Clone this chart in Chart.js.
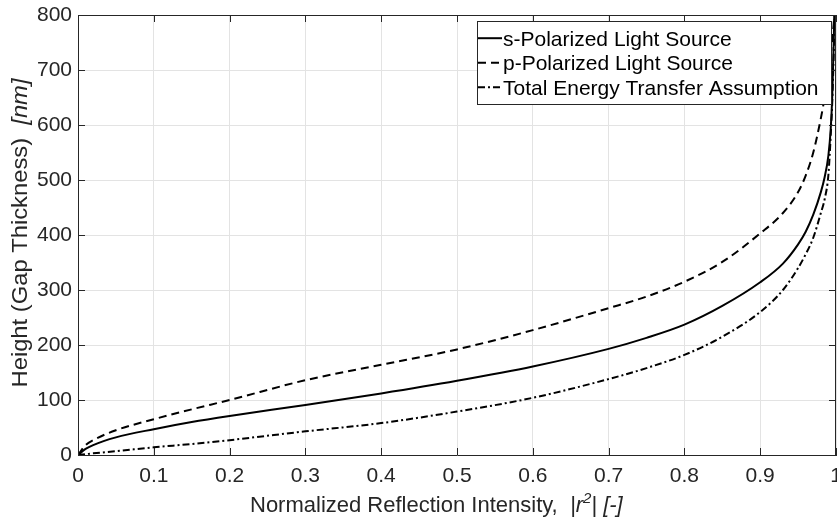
<!DOCTYPE html>
<html>
<head>
<meta charset="utf-8">
<script src="https://cdn.jsdelivr.net/npm/chart.js@4/dist/chart.umd.min.js"></script>
<style>
  html, body { margin: 0; padding: 0; background: #fff; }
  #wrap { width: 837px; height: 527px; }
</style>
</head>
<body>
<div id="wrap"><canvas id="chart"></canvas></div>
<script>
// normalized reflection intensity |r^2| (x axis)
var reflection = [0, 0.01, 0.02, 0.05, 0.1, 0.15, 0.2, 0.3, 0.4, 0.5, 0.6, 0.7, 0.75, 0.8, 0.85,
                  0.9, 0.93, 0.95, 0.96, 0.97, 0.98, 0.985, 0.99, 0.993, 0.995, 0.997, 0.998, 0.999];
// gap thickness in nm
var sPolarized = [0, 11, 18, 32, 47, 60, 71, 91, 112, 135, 161, 193, 213, 237, 271,
                  314, 348, 383, 406, 437, 478, 505, 545, 592, 650, 750, 820, 900];
var pPolarized = [0, 18, 27, 45, 65, 83, 100, 136, 164, 192, 227, 267, 288, 315, 351,
                  403, 440, 478, 508, 550, 612, 650, 695, 728, 755, 785, 805, 840];
var totalTransfer = [0, 1.5, 3, 7, 14, 20, 27, 43, 58, 79, 104, 138, 158, 182, 215,
                     260, 300, 340, 365, 395, 440, 465, 510, 580, 640, 730, 790, 850];
var seriesNames = ["s-Polarized Light Source", "p-Polarized Light Source", "Total Energy Transfer Assumption"];
var xTicks = [0, 0.1, 0.2, 0.3, 0.4, 0.5, 0.6, 0.7, 0.8, 0.9, 1];
var yTicks = [0, 100, 200, 300, 400, 500, 600, 700, 800];

var AX = '#262626';
var FONT = '"Liberation Sans", Arial, Helvetica, sans-serif';

function pts(ys) {
  return reflection.map(function(x, i) { return { x: x, y: ys[i] }; });
}

function line(label, ys, dash) {
  return {
    label: label,
    data: pts(ys),
    borderColor: '#000',
    borderWidth: 2,
    borderDash: dash,
    pointRadius: 0,
    fill: false,
    cubicInterpolationMode: 'monotone'
  };
}

// box, inward ticks, legend and axis titles in MATLAB style
var matlabAxes = {
  id: 'matlabAxes',
  afterDraw: function(chart) {
    var ctx = chart.ctx, a = chart.chartArea;
    var xs = chart.scales.x, ys = chart.scales.y;
    ctx.save();
    ctx.strokeStyle = AX;
    ctx.lineWidth = 1;
    ctx.setLineDash([]);
    ctx.beginPath();
    ctx.moveTo(a.left, a.top + 0.5); ctx.lineTo(a.right, a.top + 0.5);
    ctx.moveTo(a.right - 0.5, a.top); ctx.lineTo(a.right - 0.5, a.bottom);
    xTicks.forEach(function(v) {
      var px = Math.round(xs.getPixelForValue(v)) + 0.5;
      ctx.moveTo(px, a.bottom); ctx.lineTo(px, a.bottom - 7);
      ctx.moveTo(px, a.top); ctx.lineTo(px, a.top + 7);
    });
    yTicks.forEach(function(v) {
      var py = Math.round(ys.getPixelForValue(v)) + 0.5;
      ctx.moveTo(a.left, py); ctx.lineTo(a.left + 7, py);
      ctx.moveTo(a.right, py); ctx.lineTo(a.right - 7, py);
    });
    ctx.stroke();

    // legend
    var lw = 354, lh = 83;
    var lx = a.right - 5 - lw, ly = a.top + 6;
    ctx.fillStyle = '#fff';
    ctx.fillRect(lx, ly, lw, lh);
    ctx.strokeStyle = AX;
    ctx.strokeRect(lx + 0.5, ly + 0.5, lw, lh);
    ctx.font = '21px ' + FONT;
    ctx.textBaseline = 'alphabetic';
    ctx.textAlign = 'left';
    chart.data.datasets.forEach(function(ds, i) {
      var base = ly + 24.7 + i * 24.5;
      var mid = base - 7.5;
      ctx.strokeStyle = '#000';
      ctx.lineWidth = 2;
      ctx.setLineDash(ds.borderDash || []);
      ctx.beginPath();
      ctx.moveTo(lx + 1, mid); ctx.lineTo(lx + 25, mid);
      ctx.stroke();
      ctx.setLineDash([]);
      ctx.fillStyle = '#000';
      ctx.fillText(ds.label, lx + 26, base);
    });

    // x title
    ctx.fillStyle = AX;
    var tx = 250, tb = 512;
    ctx.font = '22px ' + FONT;
    var t1 = 'Normalized Reflection Intensity,  ';
    ctx.fillText(t1, tx, tb); tx += ctx.measureText(t1).width;
    ctx.font = 'italic 22px ' + FONT;
    ctx.fillText('|r', tx, tb); tx += ctx.measureText('|r').width;
    ctx.font = 'italic 15px ' + FONT;
    ctx.fillText('2', tx, tb - 9); tx += ctx.measureText('2').width;
    ctx.font = 'italic 22px ' + FONT;
    ctx.fillText('| [-]', tx, tb);

    // y title
    var s1 = 'Height (Gap Thickness)  ', s2 = '[nm]';
    ctx.font = '22px ' + FONT;
    var w1 = ctx.measureText(s1).width;
    ctx.font = 'italic 22px ' + FONT;
    var w2 = ctx.measureText(s2).width;
    ctx.translate(27, 233);
    ctx.rotate(-Math.PI / 2);
    ctx.scale(1.08, 1);
    var sx = -(w1 + w2) / 2;
    ctx.font = '22px ' + FONT;
    ctx.fillText(s1, sx, 0);
    ctx.font = 'italic 22px ' + FONT;
    ctx.fillText(s2, sx + w1, 0);
    ctx.restore();
  }
};

new Chart(document.getElementById('chart'), {
  type: 'line',
  data: {
    datasets: [
      line(seriesNames[0], sPolarized, []),
      line(seriesNames[1], pPolarized, [8, 5]),
      line(seriesNames[2], totalTransfer, [7, 3, 2, 3])
    ]
  },
  options: {
    responsive: true,
    maintainAspectRatio: false,
    animation: false,
    layout: { padding: { left: 0, right: 1, top: 15, bottom: 0 } },
    plugins: {
      legend: { display: false },
      tooltip: { enabled: false }
    },
    scales: {
      x: {
        type: 'linear',
        min: 0,
        max: 1,
        afterBuildTicks: function(s) { s.ticks = xTicks.map(function(v) { return { value: v }; }); },
        afterFit: function(s) { s.height = 72; s.paddingLeft = 0; s.paddingRight = 0; },
        ticks: {
          color: AX, padding: 9, maxRotation: 0, font: { size: 21, family: FONT },
          callback: function(v) { return String(v); }
        },
        grid: { color: '#e3e3e3', drawTicks: false },
        border: { display: true, color: AX }
      },
      y: {
        type: 'linear',
        min: 0,
        max: 800,
        afterBuildTicks: function(s) { s.ticks = yTicks.map(function(v) { return { value: v }; }); },
        afterFit: function(s) { s.width = 78; s.paddingTop = 0; s.paddingBottom = 0; },
        ticks: {
          color: AX, padding: 6, font: { size: 21, family: FONT },
          callback: function(v) { return String(v); }
        },
        grid: { color: '#e3e3e3', drawTicks: false },
        border: { display: true, color: AX }
      }
    }
  },
  plugins: [matlabAxes]
});
</script>
</body>
</html>
